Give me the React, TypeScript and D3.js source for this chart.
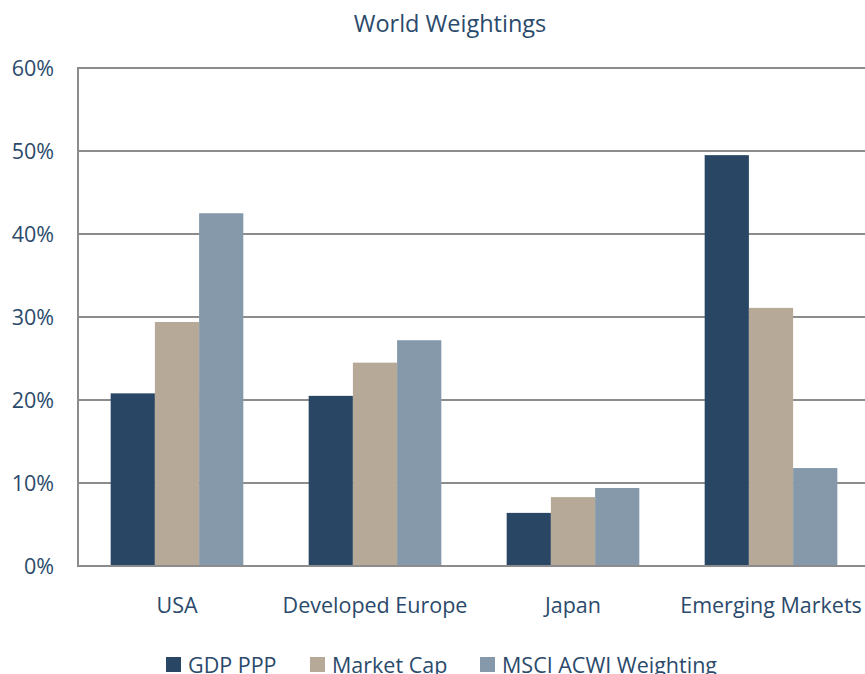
import React from "react";
import * as d3 from "d3";

const categories = ["USA", "Developed Europe", "Japan", "Emerging Markets"];
const seriesNames = ["GDP PPP", "Market Cap", "MSCI ACWI Weighting"];
const gdpPpp = [20.8, 20.5, 6.4, 49.5];
const marketCap = [29.4, 24.5, 8.3, 31.1];
const msciAcwi = [42.5, 27.2, 9.4, 11.8];
const yTicks = [0, 10, 20, 30, 40, 50, 60];
const colors = ["#294764", "#b7a997", "#8599aa"];

const W = 865;
const H = 674;
const margin = { left: 78, top: 68, right: -5, bottom: 108 };
const FONT = "'Open Sans', Lato, sans-serif";
const TEXT = "#2b4a6b";

export default function App() {
  const series = [gdpPpp, marketCap, msciAcwi];
  const x = d3
    .scaleBand<string>()
    .domain(categories)
    .range([margin.left, W - margin.right])
    .paddingInner(0.33)
    .paddingOuter(0.165);
  const x1 = d3
    .scaleBand<number>()
    .domain(d3.range(seriesNames.length))
    .range([0, x.bandwidth()]);
  const y = d3
    .scaleLinear()
    .domain([0, 60])
    .range([H - margin.bottom, margin.top]);

  const legendX = [166, 310, 480];

  return (
    <svg
      width={W}
      height={H}
      style={{ position: "absolute", left: 0, top: 0, background: "#fff" }}
      fontFamily={FONT}
    >
      <text x={450} y={32} textAnchor="middle" fontSize={23.5} fill={TEXT}>
        World Weightings
      </text>
      {yTicks.map((t) => (
        <g key={t}>
          <line
            x1={margin.left}
            x2={W + 10}
            y1={y(t)}
            y2={y(t)}
            stroke="#8c8c8c"
            strokeWidth={2}
          />
          <text
            x={54}
            y={y(t) + 8}
            textAnchor="end"
            fontSize={21.5}
            fill={TEXT}
          >
            {t}%
          </text>
        </g>
      ))}
      <line
        x1={margin.left}
        x2={margin.left}
        y1={y(60) - 1}
        y2={y(0) + 1}
        stroke="#8c8c8c"
        strokeWidth={2}
      />
      {categories.map((c, ci) => (
        <g key={c}>
          {series.map((s, si) => (
            <rect
              key={si}
              x={(x(c) ?? 0) + (x1(si) ?? 0)}
              y={y(s[ci])}
              width={x1.bandwidth()}
              height={y(0) - y(s[ci])}
              fill={colors[si]}
            />
          ))}
          <text
            x={(x(c) ?? 0) + x.bandwidth() / 2}
            y={613}
            textAnchor="middle"
            fontSize={21.5}
            fill={TEXT}
          >
            {c}
          </text>
        </g>
      ))}
      {/* baseline drawn over the bars */}
      <line
        x1={margin.left}
        x2={W + 10}
        y1={y(0)}
        y2={y(0)}
        stroke="#8c8c8c"
        strokeWidth={2}
      />
      {seriesNames.map((n, i) => (
        <g key={n}>
          <rect x={legendX[i]} y={657} width={15} height={15} fill={colors[i]} />
          <text x={legendX[i] + 22} y={673} fontSize={21.5} fill={TEXT}>
            {n}
          </text>
        </g>
      ))}
    </svg>
  );
}
